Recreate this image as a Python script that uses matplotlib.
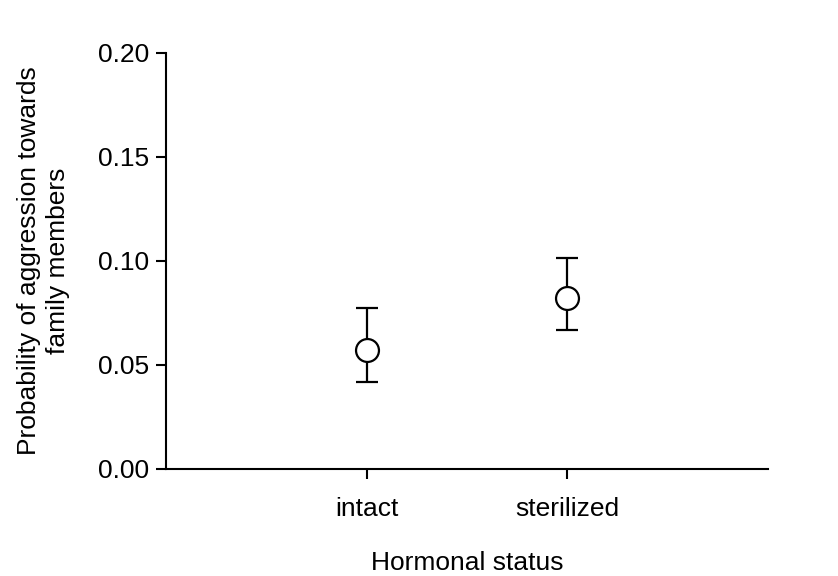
import matplotlib.pyplot as plt

plt.rcParams['font.family'] = ['Liberation Sans', 'DejaVu Sans']

# data
groups = ['intact', 'sterilized']
means = [0.0572, 0.0822]
lower = [0.0418, 0.0668]
upper = [0.0776, 0.1015]

x = list(range(len(groups)))
err_lo = [m - l for m, l in zip(means, lower)]
err_hi = [u - m for m, u in zip(means, upper)]

fig = plt.figure(figsize=(8.38, 5.76), dpi=100)
ax = fig.add_axes([0.1981, 0.1858, 0.7184, 0.7222])

ax.errorbar(x, means, yerr=[err_lo, err_hi], fmt='o', color='black',
            ecolor='black', elinewidth=1.6, capsize=8, capthick=1.6,
            markersize=16.5, markerfacecolor='white', markeredgecolor='black',
            markeredgewidth=1.6, zorder=3)

ax.set_xlim(-1, 2)
ax.set_ylim(0, 0.20)
ax.set_xticks(x)
ax.set_xticklabels(groups)
ax.set_yticks([0.00, 0.05, 0.10, 0.15, 0.20])
ax.set_yticklabels(['0.00', '0.05', '0.10', '0.15', '0.20'])

for side in ['top', 'right']:
    ax.spines[side].set_visible(False)
for side in ['left', 'bottom']:
    ax.spines[side].set_linewidth(1.5)

ax.tick_params(axis='both', direction='out', length=7, width=1.5, labelsize=19)
ax.tick_params(axis='x', pad=13)
ax.tick_params(axis='y', pad=5)

ax.set_xlabel('Hormonal status', fontsize=19, labelpad=22)
ax.set_ylabel('Probability of aggression towards\nfamily members', fontsize=19,
              labelpad=20, linespacing=1.3)

fig.savefig('out.png', dpi=100)
